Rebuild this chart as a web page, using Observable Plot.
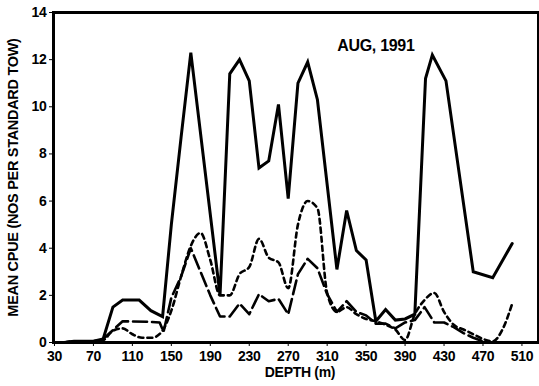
<!DOCTYPE html>
<html>
<head>
<meta charset="utf-8">
<script src="https://cdn.jsdelivr.net/npm/d3@7"></script>
<script src="https://cdn.jsdelivr.net/npm/@observablehq/plot@0.6"></script>
<style>
  html, body { margin: 0; padding: 0; background: #fff; }
  #chart svg { display: block; }
</style>
</head>
<body>
<div id="chart"></div>
<script>
// ---- Data (depth in m, mean CPUE) ----
const solidDepth = [40, 50, 60, 70, 80, 90, 100, 117, 129, 141, 150, 160, 170, 200, 210, 220, 230, 240, 250, 260, 270, 280, 290, 300, 320, 330, 340, 350, 360, 370, 380, 390, 400, 411, 418, 432, 460, 480, 500];
const solidCpue  = [0, 0.05, 0.05, 0.05, 0.15, 1.5, 1.8, 1.8, 1.35, 1.1, 5.0, 8.7, 12.3, 2.0, 11.4, 12.0, 11.1, 7.4, 7.7, 10.1, 6.1, 11.0, 11.9, 10.3, 3.1, 5.6, 3.9, 3.5, 0.9, 1.4, 0.95, 1.0, 1.2, 11.2, 12.2, 11.1, 3.0, 2.75, 4.2];

const longDashDepth = [40, 50, 60, 70, 80, 100, 125, 138, 142, 150, 160, 170, 180, 190, 200, 210, 220, 230, 240, 250, 260, 270, 280, 290, 300, 310, 320, 330, 340, 350, 360, 370, 380, 390, 400, 410, 420, 430, 440, 450, 460, 470, 480];
const longDashCpue  = [0, 0.05, 0.05, 0.05, 0.15, 0.9, 0.88, 0.85, 0.45, 1.9, 2.8, 4.0, 3.0, 2.0, 1.1, 1.1, 1.65, 1.2, 2.05, 1.75, 1.85, 1.2, 2.9, 3.55, 3.15, 2.05, 1.3, 1.75, 1.3, 1.15, 0.8, 0.8, 0.6, 0.85, 0.95, 1.5, 0.85, 0.85, 0.65, 0.4, 0.2, 0.05, 0];

const dotDepth = [40, 50, 60, 70, 80, 90, 100, 110, 120, 130, 140, 150, 160, 170, 180, 190, 200, 210, 220, 230, 240, 250, 260, 270, 280, 290, 300, 310, 320, 330, 340, 350, 360, 370, 380, 390, 400, 410, 420, 430, 440, 450, 460, 470, 480, 490, 500];
const dotCpue  = [0, 0.05, 0.05, 0.05, 0.1, 0.5, 0.6, 0.35, 0.2, 0.2, 0.45, 1.35, 2.8, 4.1, 4.65, 3.5, 2.0, 2.0, 2.9, 3.2, 4.4, 3.6, 3.4, 2.3, 5.0, 6.0, 5.7, 2.1, 1.3, 1.5, 1.2, 1.0, 0.9, 0.75, 0.55, 0.1, 1.2, 1.8, 2.1, 1.3, 0.75, 0.55, 0.35, 0.15, 0.05, 0.55, 1.65];

const xTicks = [30, 70, 110, 150, 190, 230, 270, 310, 350, 390, 430, 470, 510];
const yTicks = [0, 2, 4, 6, 8, 10, 12, 14];

const xTitle = "DEPTH (m)";
const yTitle = "MEAN CPUE (NOS PER STANDARD TOW)";
const annotation = "AUG, 1991";

const rows = (d, v) => d.map((x, i) => ({depth: x, cpue: v[i]}));

const font = "'Liberation Sans', Arial, Helvetica, sans-serif";

const chart = Plot.plot({
  width: 539,
  height: 386,
  marginLeft: 53,
  marginRight: 1,
  marginTop: 12,
  marginBottom: 44,
  style: {fontFamily: font, fontSize: "14px", fontWeight: "bold", color: "#000", background: "#fff", letterSpacing: "-0.3px"},
  x: {domain: [29, 527], ticks: xTicks, tickSize: 4, tickPadding: 5, tickFormat: d => String(d), label: null},
  y: {domain: [0, 14], ticks: yTicks, tickSize: 4, tickPadding: 3, tickFormat: d => String(d), label: null},
  marks: [
    Plot.line(rows(dotDepth, dotCpue), {x: "depth", y: "cpue", stroke: "#000", strokeWidth: 2.6, strokeDasharray: "5,4", curve: "monotone-x"}),
    Plot.line(rows(longDashDepth, longDashCpue), {x: "depth", y: "cpue", stroke: "#000", strokeWidth: 2.6, strokeDasharray: "14,5"}),
    Plot.line(rows(solidDepth, solidCpue), {x: "depth", y: "cpue", stroke: "#000", strokeWidth: 3, strokeLinejoin: "miter", strokeMiterlimit: 3}),
    Plot.frame({stroke: "#000", strokeWidth: 3}),
    Plot.text([annotation], {x: 360, y: 12.6, text: d => d, fontSize: 16, fontWeight: "bold", fill: "#000"}),
    Plot.text([xTitle], {frameAnchor: "bottom", textAnchor: "middle", lineAnchor: "middle", dx: 4, dy: 30, text: d => d, fontSize: 14, fontWeight: "bold", fill: "#000"}),
    Plot.text([yTitle], {frameAnchor: "left", textAnchor: "middle", lineAnchor: "middle", dx: -40, rotate: -90, text: d => d, fontSize: 14.5, fontWeight: "bold", fill: "#000"})
  ]
});
document.getElementById("chart").appendChild(chart);
</script>
</body>
</html>
